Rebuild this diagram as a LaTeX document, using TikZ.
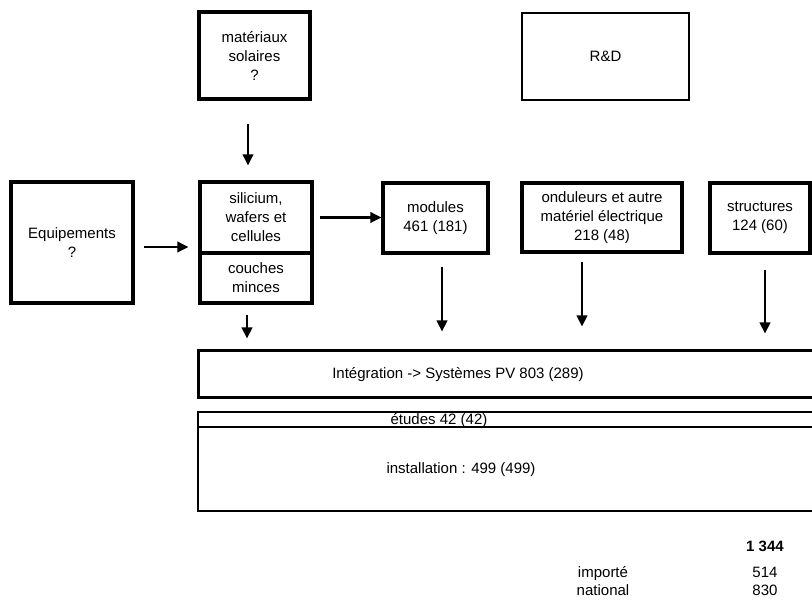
\documentclass[tikz,border=0pt]{standalone}
\usepackage{fontspec}
\setmainfont{Liberation Sans}
\usetikzlibrary{positioning,arrows.meta,calc}

\begin{document}
\begin{tikzpicture}[
  x=1pt, y=-1pt,
  font=\fontsize{15}{19}\selectfont,
  >={Triangle[length=11pt,width=10.5pt]},
  chainbox/.style={rectangle, draw=black, line width=3.2pt, align=center, inner sep=0pt},
  thinbox/.style={rectangle, draw=black, line width=2.2pt, inner sep=0pt},
  flow/.style={->, draw=black, line width=2.2pt},
  total/.style={anchor=base, inner sep=0pt}
]
  \useasboundingbox (0,0) rectangle (812,601);

  % upstream
  \node[chainbox, minimum width=111pt, minimum height=87pt] (mat) at (254.5,55.5) {mat\'eriaux\\solaires\\?};
  \node[thinbox, line width=2.6pt, minimum width=167pt, minimum height=87pt] (rd) at (605.5,56.5) {R\&D};
  \node[chainbox, minimum width=122pt, minimum height=121pt] (equip) at (72,242.5) {Equipements\\?};

  % value chain
  \node[chainbox, minimum width=112pt, minimum height=71pt] (sil) at (256,217.5) {silicium,\\wafers et\\cellules};
  \node[chainbox, minimum width=112pt, minimum height=50pt] (couch) at (256,278) {couches\\minces};
  \node[chainbox, minimum width=105pt, minimum height=70pt] (mod) at (435.5,218) {modules\\461 (181)};
  \node[chainbox, minimum width=160pt, minimum height=69pt] (ond) at (602,217.5) {onduleurs et autre\\mat\'eriel \'electrique\\218 (48)};
  \node[chainbox, minimum width=100pt, minimum height=70pt] (struc) at (760,218) {structures\\124 (60)};

  % downstream
  \node[thinbox, line width=3pt, minimum width=622pt, minimum height=47pt] (integ) at (509,374.5) {};
  \node (integtxt) at (458,375) {Int\'egration -> Syst\`emes PV 803 (289)};
  \node[thinbox, minimum width=622pt, minimum height=15pt] (etu) at (509,419.5) {};
  \node[inner sep=0pt] (etutxt) at (439,420.5) {\'etudes 42 (42)};
  \node[thinbox, minimum width=622pt, minimum height=84pt] (inst) at (509,469) {};
  \node (insttxt) at (461,470) {installation : 499 (499)};

  \draw[flow, shorten <=23pt, shorten >=15pt] ([xshift=-6.5pt]mat.south) -- ([xshift=-6.5pt]mat.south |- sil.north);
  \draw[flow, shorten <=9pt, shorten >=10pt] ([yshift=-4.5pt]equip.east) -- ([yshift=-4.5pt]equip.east -| sil.west);
  \draw[flow, shorten <=6pt] (sil.east) -- (sil.east -| mod.west);
  \draw[flow, shorten <=10pt, shorten >=11pt] ([xshift=-9pt]couch.south) -- ([xshift=-9pt]couch.south |- integ.north);
  \draw[flow, shorten <=12pt, shorten >=18pt] ([xshift=6.5pt]mod.south) -- ([xshift=6.5pt]mod.south |- integ.north);
  \draw[flow, shorten <=8pt, shorten >=23pt] ([xshift=-20pt]ond.south) -- ([xshift=-20pt]ond.south |- integ.north);
  \draw[flow, shorten <=15pt, shorten >=16pt] ([xshift=5pt]struc.south) -- ([xshift=5pt]struc.south |- integ.north);

  % totals
  \node[total, font=\fontsize{15}{19}\selectfont\bfseries] (tot) at (765,551) {1 344};
  \node[total] (imp) at (603,577) {import\'e};
  \node[total] (impval) at (765,577) {514};
  \node[total] (nat) at (603,595) {national};
  \node[total] (natval) at (765,595) {830};
\end{tikzpicture}
\end{document}
